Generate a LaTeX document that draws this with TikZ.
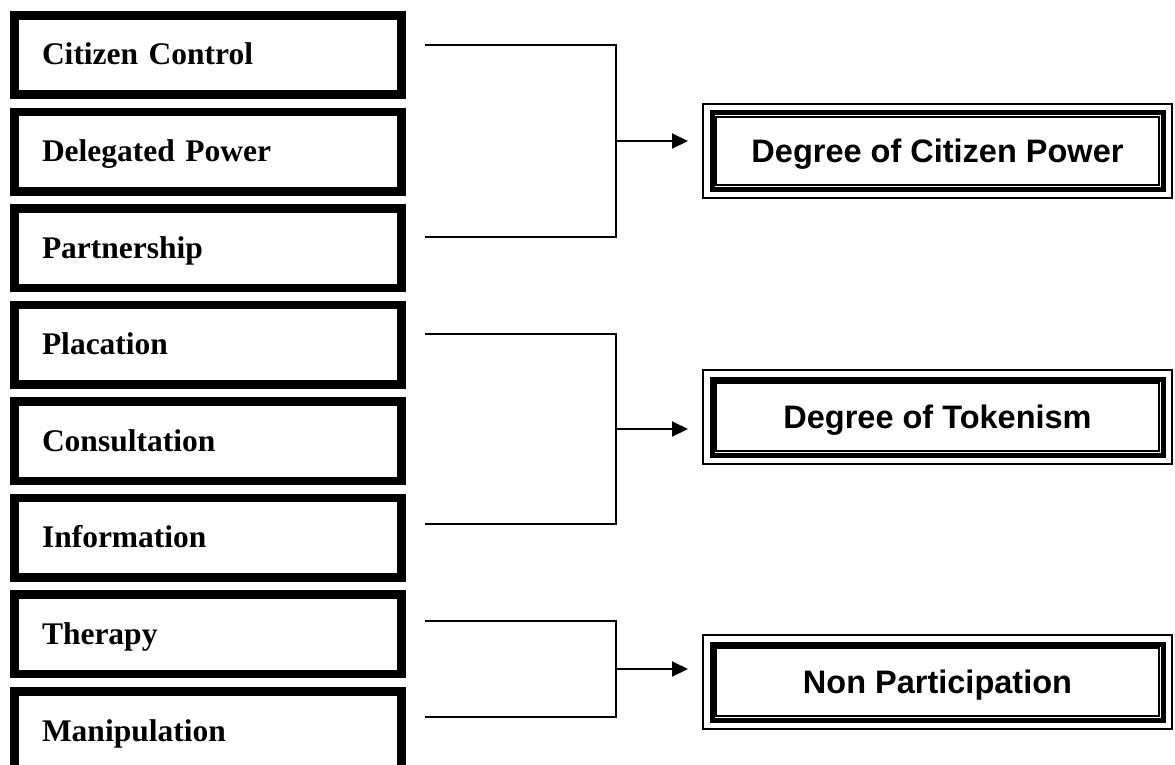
\documentclass[tikz,border=0pt]{standalone}
\usepackage{fontspec}
\setmainfont{Liberation Serif}
\newfontfamily\arialfont{Liberation Sans}
\usetikzlibrary{arrows.meta,calc}
\tikzset{
 leftbox/.style={draw, line width=6.5pt, minimum width=389.5pt, minimum height=81.5pt,
   inner xsep=28.75pt, inner ysep=0pt, text width=332pt, align=left,
   font=\fontsize{31.5}{36}\selectfont\bfseries, text height=22pt, text depth=2pt},
 leftinner/.style={line width=2.3pt},
 rightbox/.style={draw, line width=5pt, minimum width=451pt, minimum height=76pt,
   inner sep=0pt, align=center,
   font=\arialfont\fontsize{32.5}{38}\selectfont\bfseries, text height=24pt, text depth=0.8pt},
 rightthin/.style={line width=2.2pt},
 conn/.style={line width=2pt},
 arr/.style={conn, -{Triangle[length=16pt,width=15pt]}},
}
\begin{document}
\begin{tikzpicture}[x=1pt,y=-1pt]
\useasboundingbox (0,0) rectangle (1175,765);
\clip (0,0) rectangle (1175,765);
% left boxes
\node[leftbox] (cc) at (208,55)    {Citizen Control};
\node[leftbox] (dp) at (208,151.6) {Delegated Power};
\node[leftbox] (pa) at (208,248.1) {Partnership};
\node[leftbox] (pl) at (208,344.7) {Placation};
\node[leftbox] (co) at (208,441.3) {Consultation};
\node[leftbox] (in) at (208,537.9) {Information};
\node[leftbox] (th) at (208,634.4) {Therapy};
\node[leftbox] (ma) at (208,731)   {Manipulation};
\foreach \n in {cc,dp,pa,pl,co,in,th,ma}
  \draw[leftinner] ($(\n.north west)+(7.4pt,-7.4pt)$) rectangle ($(\n.south east)+(-7.4pt,7.4pt)$);
% right boxes
\node[rightbox] (cp) at (937.5,151) {Degree of Citizen Power};
\node[rightbox] (tk) at (937.5,417) {Degree of Tokenism};
\node[rightbox] (np) at (937.5,682) {Non Participation};
\foreach \n in {cp,tk,np}{
  \draw[rightthin] ($(\n.north west)+(-6.75pt,6.75pt)$) rectangle ($(\n.south east)+(6.75pt,-6.75pt)$);
  \draw[rightthin] ($(\n.north west)+(6.6pt,-6.6pt)$) rectangle ($(\n.south east)+(-6.6pt,6.6pt)$);
}
% connector coordinates
\coordinate (s1) at (425,45);
\coordinate (s2) at (425,237);
\coordinate (s3) at (425,334);
\coordinate (s4) at (425,524);
\coordinate (s5) at (425,621);
\coordinate (s6) at (425,717);
\coordinate (j1) at (616,141);
\coordinate (j2) at (616,429);
\coordinate (j3) at (616,669);
\coordinate (t1) at (688,141);
\coordinate (t2) at (688,429);
\coordinate (t3) at (688,669);
\draw[conn] (s1) -| (j1) |- (s2);
\draw[conn] (s3) -| (j2) |- (s4);
\draw[conn] (s5) -| (j3) |- (s6);
\draw[arr] (j1) -- (t1);
\draw[arr] (j2) -- (t2);
\draw[arr] (j3) -- (t3);
\end{tikzpicture}
\end{document}
